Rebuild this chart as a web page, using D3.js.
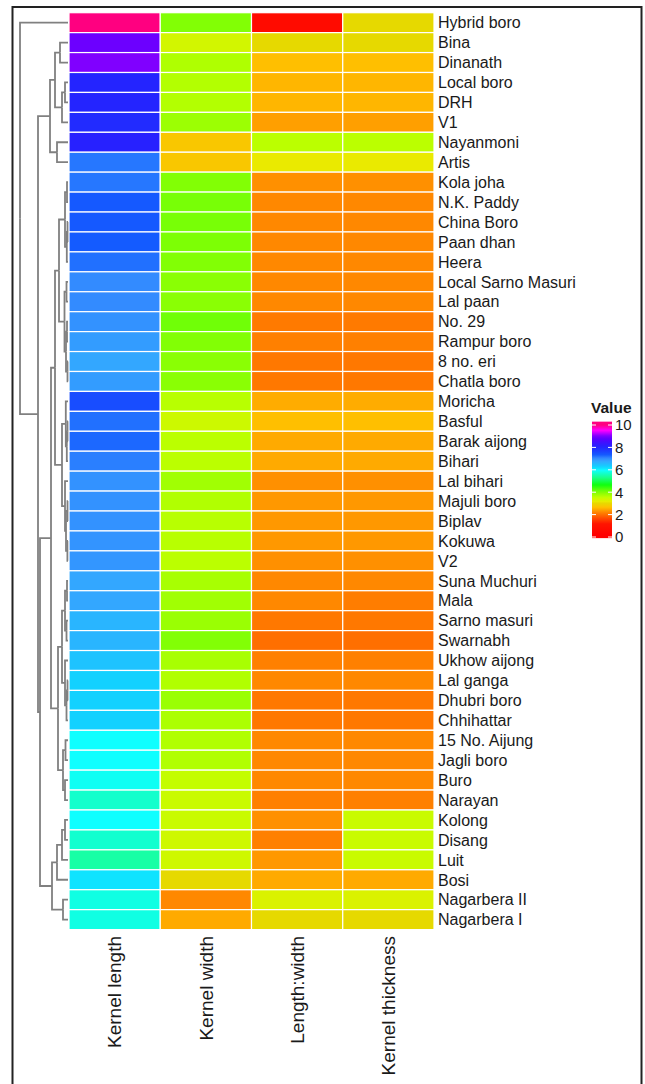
<!DOCTYPE html>
<html>
<head>
<meta charset="utf-8">
<script src="https://cdn.jsdelivr.net/npm/d3@7"></script>
<style>
  body { margin: 0; background: #fff; }
  svg { display: block; font-family: "Liberation Sans", Arial, sans-serif; }
</style>
</head>
<body>
<div id="chart"></div>
<script>
const varieties = ["Hybrid boro", "Bina", "Dinanath", "Local boro", "DRH", "V1", "Nayanmoni", "Artis",
  "Kola joha", "N.K. Paddy", "China Boro", "Paan dhan", "Heera", "Local Sarno Masuri", "Lal paan",
  "No. 29", "Rampur boro", "8 no. eri", "Chatla boro", "Moricha", "Basful", "Barak aijong", "Bihari",
  "Lal bihari", "Majuli boro", "Biplav", "Kokuwa", "V2", "Suna Muchuri", "Mala", "Sarno masuri",
  "Swarnabh", "Ukhow aijong", "Lal ganga", "Dhubri boro", "Chhihattar", "15 No. Aijung", "Jagli boro",
  "Buro", "Narayan", "Kolong", "Disang", "Luit", "Bosi", "Nagarbera II", "Nagarbera I"];

const traits = ["Kernel length", "Kernel width", "Length:width", "Kernel thickness"];

const kernelLength = [10.0, 8.85, 9.0, 8.0, 8.0, 7.9, 8.05, 7.1, 7.1, 7.3, 7.3, 7.28, 7.15, 6.97, 6.97,
  6.9, 6.8, 6.7, 6.8, 7.45, 7.15, 7.2, 7.05, 6.9, 6.9, 6.9, 6.88, 6.86, 6.7, 6.7, 6.53, 6.53, 6.37,
  6.22, 6.22, 6.22, 5.89, 5.89, 5.83, 5.6, 5.89, 5.62, 5.37, 6.07, 5.73, 5.73];
const kernelWidth = [3.86, 3.25, 3.54, 3.51, 3.51, 3.67, 2.6, 2.6, 3.86, 3.93, 3.93, 3.89, 3.86, 3.8,
  3.8, 3.99, 3.86, 3.8, 3.8, 3.48, 3.31, 3.46, 3.46, 3.64, 3.53, 3.48, 3.48, 3.46, 3.59, 3.64, 3.69,
  3.86, 3.59, 3.53, 3.69, 3.56, 3.53, 3.53, 3.39, 3.34, 3.34, 3.29, 3.29, 2.89, 2.07, 2.33];
const lengthWidth = [0.5, 2.89, 2.5, 2.43, 2.43, 2.25, 3.46, 3.0, 2.13, 2.07, 2.07, 2.07, 2.07, 2.07,
  2.07, 1.95, 2.0, 1.93, 1.93, 2.35, 2.5, 2.33, 2.33, 2.13, 2.19, 2.19, 2.19, 2.13, 2.07, 2.07, 1.93,
  1.84, 2.0, 2.07, 1.93, 1.93, 2.07, 2.07, 2.07, 2.0, 2.13, 2.0, 2.19, 2.33, 3.17, 2.89];
const kernelThickness = [2.89, 2.89, 2.5, 2.43, 2.43, 2.25, 3.46, 3.0, 2.13, 2.07, 2.07, 2.07, 2.07,
  2.07, 2.07, 1.95, 2.0, 1.93, 1.93, 2.35, 2.5, 2.33, 2.33, 2.13, 2.19, 2.19, 2.19, 2.13, 2.07, 1.98,
  1.93, 1.84, 2.0, 2.07, 1.93, 1.93, 2.07, 2.07, 2.07, 2.0, 3.34, 3.34, 3.34, 2.33, 3.17, 2.89];

const legendTicks = [0, 2, 4, 6, 8, 10];

// row dendrogram: [merge height, left, right]; leaves are row indices
const tree = [4.8, 0,
  [3.0,
    [1.8,
      [1.3, [0.8, 1, 2], [0.6, [0.3, 3, 4], 5]],
      [1.1, 6, 7]],
    [2.8,
      [1.7,
        [1.3,
          [0.9,
            [0.3, [0.1, 8, 9], [0.12, [0.05, 10, 11], 12]],
            [0.35, [0.15, 13, 14], [0.2, [0.1, 15, 16], [0.05, 17, 18]]]],
          [0.6,
            [0.22, 19, [0.12, [0.05, 20, 21], 22]],
            [0.3, 23, [0.2, [0.05, 24, 25], [0.06, 26, 27]]]]],
        [1.0,
          [0.6,
            [0.3, [0.1, 28, 29], [0.15, 30, 31]],
            [0.3, 32, [0.15, [0.05, 33, 34], 35]]],
          [0.5, [0.25, 36, 37], [0.3, 38, 39]]]],
      [1.6,
        [1.1, [0.6, [0.3, 40, 41], 42], 43],
        [0.5, 44, 45]]]]];

const width = 645, height = 1084;
const columns = [kernelLength, kernelWidth, lengthWidth, kernelThickness];

const svg = d3.select("#chart").append("svg")
  .attr("width", width)
  .attr("height", height);

// outer frame
svg.append("rect")
  .attr("x", 12.5).attr("y", 7)
  .attr("width", 629).attr("height", 1110)
  .attr("fill", "none").attr("stroke", "#222").attr("stroke-width", 2);

const x = d3.scaleBand().domain(traits).range([69, 434]);
const y = d3.scaleBand().domain(varieties).range([12.7, 929.6]);

// rainbow-like fill: hue by value, lightness nudged to look like the source
const hue = d3.scaleLinear()
  .domain([0, 1, 2, 3, 4, 5, 6, 7, 8, 9, 10])
  .range([0, 5, 30, 60, 95, 140, 185, 215, 240, 270, 330]);
const light = d3.scaleLinear()
  .domain([0, 45, 57, 75, 150, 175, 190, 205, 214, 222, 240, 262, 330])
  .range([0.5, 0.5, 0.45, 0.5, 0.55, 0.53, 0.53, 0.6, 0.6, 0.54, 0.57, 0.5, 0.5]);
const color = (v) => {
  const h = hue(v);
  return d3.hsl(h, 1, light(h)).toString();
};

const cells = varieties.flatMap((name, i) =>
  traits.map((t, j) => ({ name, trait: t, value: columns[j][i] })));

svg.append("g")
  .selectAll("rect")
  .data(cells)
  .join("rect")
  .attr("x", (d) => x(d.trait))
  .attr("y", (d) => y(d.name))
  .attr("width", x.bandwidth())
  .attr("height", y.bandwidth())
  .attr("fill", (d) => color(d.value))
  .attr("stroke", "#fff")
  .attr("stroke-width", 1.2);

// row labels
svg.append("g")
  .selectAll("text")
  .data(varieties)
  .join("text")
  .attr("x", 438)
  .attr("y", (d) => y(d) + y.bandwidth() / 2)
  .attr("dy", "0.36em")
  .attr("font-size", 16)
  .attr("fill", "#1a1a1a")
  .text((d) => d);

// column labels
svg.append("g")
  .selectAll("text")
  .data(traits)
  .join("text")
  .attr("transform", (d) => `translate(${x(d) + x.bandwidth() / 2},936) rotate(-90)`)
  .attr("text-anchor", "end")
  .attr("dy", "0.36em")
  .attr("font-size", 19)
  .attr("fill", "#1a1a1a")
  .text((d) => d);

// dendrogram
const root = d3.hierarchy(tree, (d) => (Array.isArray(d) ? d.slice(1) : null));
const xd = d3.scaleLinear().domain([0, 4.8]).range([68, 20]);
root.eachAfter((n) => {
  n.h = Array.isArray(n.data) ? n.data[0] : 0;
  n.py = n.children
    ? d3.mean(n.children, (c) => c.py)
    : y(varieties[n.data]) + y.bandwidth() / 2;
});

svg.append("g")
  .selectAll("path")
  .data(root.links())
  .join("path")
  .attr("d", (l) => `M${xd(l.target.h)},${l.target.py}H${xd(l.source.h)}V${l.source.py}`)
  .attr("fill", "none")
  .attr("stroke", "#808080")
  .attr("stroke-width", 1.8);

// legend
const ly = d3.scaleLinear().domain([0, 10]).range([537, 425]);
const grad = svg.append("defs").append("linearGradient")
  .attr("id", "lg").attr("x1", 0).attr("x2", 0).attr("y1", 1).attr("y2", 0);
grad.selectAll("stop")
  .data(d3.range(-0.3, 10.31, 0.1))
  .join("stop")
  .attr("offset", (d) => (d + 0.3) / 10.6)
  .attr("stop-color", (d) => color(Math.max(0, Math.min(10, d))));

const legend = svg.append("g");
legend.append("text")
  .attr("x", 591).attr("y", 413)
  .attr("font-size", 15.5).attr("font-weight", "bold").attr("fill", "#1a1a1a")
  .text("Value");
legend.append("rect")
  .attr("x", 592).attr("y", ly(10.3))
  .attr("width", 20).attr("height", ly(-0.1) - ly(10.3))
  .attr("fill", "url(#lg)");
legend.selectAll(".tk")
  .data(legendTicks)
  .join("g")
  .attr("class", "tk")
  .each(function (d) {
    const g = d3.select(this);
    g.append("line").attr("x1", 592).attr("x2", 596).attr("y1", ly(d)).attr("y2", ly(d))
      .attr("stroke", "#fff").attr("stroke-width", 1);
    g.append("line").attr("x1", 608).attr("x2", 612).attr("y1", ly(d)).attr("y2", ly(d))
      .attr("stroke", "#fff").attr("stroke-width", 1);
    g.append("text").attr("x", 615).attr("y", ly(d)).attr("dy", "0.36em")
      .attr("font-size", 15).attr("fill", "#1a1a1a").text(d);
  });
</script>
</body>
</html>
